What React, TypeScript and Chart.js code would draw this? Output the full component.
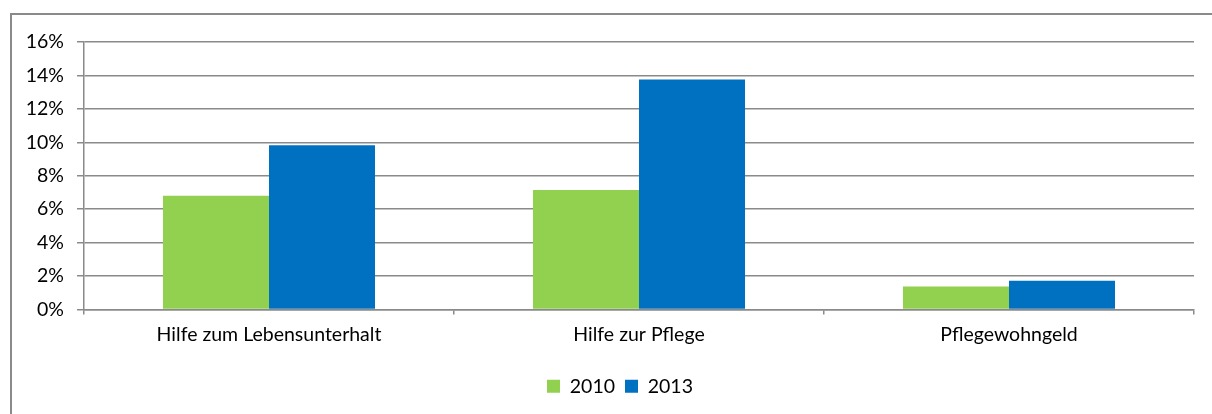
import React, { useEffect, useRef } from "react";
import { Chart, registerables } from "chart.js";

Chart.register(...registerables);

const categories = ["Hilfe zum Lebensunterhalt", "Hilfe zur Pflege", "Pflegewohngeld"];
const series2010 = [6.8, 7.15, 1.38];
const series2013 = [9.83, 13.75, 1.72];
const seriesLabels = ["2010", "2013"];
const yTicks = [0, 2, 4, 6, 8, 10, 12, 14, 16];

const FONT = "Lato, 'Open Sans', sans-serif";
const GRID = "#8a8a8a";
const FS = 19.5;

const framePlugin = {
  id: "frame",
  beforeDraw(chart: any) {
    const ctx = chart.ctx;
    ctx.save();
    ctx.fillStyle = "#ffffff";
    ctx.fillRect(0, 0, chart.width, chart.height);
    ctx.strokeStyle = GRID;
    ctx.lineWidth = 2;
    ctx.beginPath();
    ctx.moveTo(11, chart.height + 2);
    ctx.lineTo(11, 14);
    ctx.lineTo(chart.width + 2, 14);
    ctx.stroke();
    ctx.restore();
  },
  afterLayout(chart: any) {
    if (chart.legend) {
      chart.legend.left += 18;
      chart.legend.right += 18;
    }
  },
};

export default function App() {
  const ref = useRef<HTMLCanvasElement | null>(null);
  useEffect(() => {
    if (!ref.current) return;
    const chart = new Chart(ref.current, {
      type: "bar",
      data: {
        labels: categories,
        datasets: [
          {
            label: seriesLabels[0],
            data: series2010,
            backgroundColor: "#92D050",
            borderWidth: 0,
          },
          {
            label: seriesLabels[1],
            data: series2013,
            backgroundColor: "#0070C0",
            borderWidth: 0,
          },
        ],
      },
      options: {
        responsive: false,
        devicePixelRatio: 1,
        animation: false,
        layout: { padding: { left: 10, right: 18, top: 42, bottom: 8 } },
        datasets: { bar: { categoryPercentage: 0.573, barPercentage: 1 } },
        plugins: {
          legend: {
            position: "bottom",
            labels: {
              boxWidth: 13,
              boxHeight: 13,
              padding: 10,
              color: "#000",
              font: { family: FONT, size: FS },
            },
          },
          tooltip: { enabled: false },
        },
        scales: {
          x: {
            afterFit: (s: any) => {
              s.height = 57;
            },
            grid: {
              offset: true,
              drawOnChartArea: false,
              drawTicks: true,
              tickLength: 5,
              color: GRID,
              lineWidth: 1.5,
            },
            border: { color: GRID, width: 1.5 },
            ticks: {
              padding: 9,
              color: "#000",
              font: { family: FONT, size: FS },
            },
          },
          y: {
            min: 0,
            max: 16,
            afterFit: (s: any) => {
              s.width = 74;
            },
            afterBuildTicks: (s: any) => {
              s.ticks = yTicks.map((v) => ({ value: v }));
            },
            grid: {
              color: GRID,
              lineWidth: 1.5,
              drawTicks: true,
              tickLength: 7,
            },
            border: { color: GRID, width: 1.5 },
            ticks: {
              padding: 13,
              color: "#000",
              font: { family: FONT, size: FS },
              callback: (v: any) => v + "%",
            },
          },
        },
      },
      plugins: [framePlugin],
    });
    return () => chart.destroy();
  }, []);
  return (
    <div style={{ position: "absolute", left: 0, top: 0, width: 1212, height: 414 }}>
      <canvas ref={ref} width={1212} height={414} style={{ display: "block" }} />
    </div>
  );
}
